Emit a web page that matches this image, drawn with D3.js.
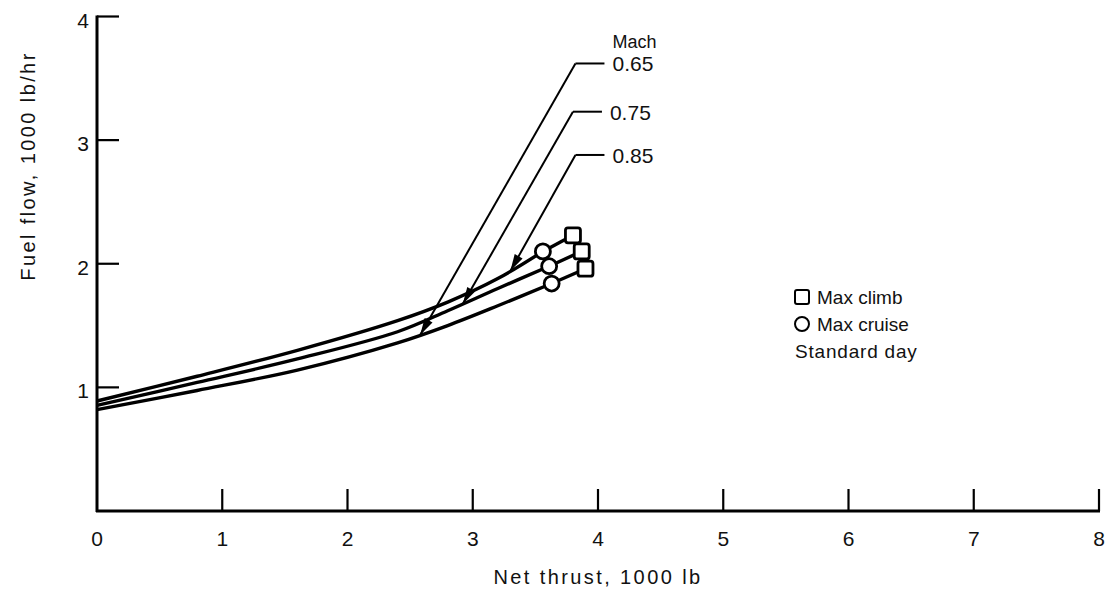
<!DOCTYPE html>
<html><head><meta charset="utf-8">
<script src="https://cdn.jsdelivr.net/npm/d3@7"></script>
<style>
body{margin:0;background:#fff;}
text{font-family:"Liberation Sans",Arial,sans-serif;fill:#111;}
</style></head>
<body><svg id="c" width="1109" height="590"></svg>
<script>
// ---- data ----
const xTicks = [0,1,2,3,4,5,6,7,8];
const yTicks = [1,2,3,4];
const machLabels = ["0.65","0.75","0.85"];
const thrust065 = [0, 0.8, 1.6, 2.4, 2.8, 3.2, 3.63];
const fuel065   = [0.82, 0.975, 1.14, 1.36, 1.50, 1.66, 1.84];
const thrust075 = [0, 0.8, 1.6, 2.4, 2.8, 3.2, 3.61];
const fuel075   = [0.855, 1.04, 1.23, 1.45, 1.62, 1.80, 1.98];
const thrust085 = [0, 0.8, 1.6, 2.4, 2.8, 3.2, 3.56];
const fuel085   = [0.89, 1.09, 1.30, 1.54, 1.69, 1.88, 2.10];
const cruiseThrust = [3.63, 3.61, 3.56];
const cruiseFuel   = [1.84, 1.98, 2.10];
const climbThrust  = [3.90, 3.87, 3.80];
const climbFuel    = [1.96, 2.10, 2.23];
const arrowTipThrust = [2.58, 2.92, 3.30];
const leaderThrust = [3.82, 3.80, 3.82];
const leaderFuel   = [3.62, 3.23, 2.88];

const svg = d3.select("#c");
const x = d3.scaleLinear().domain([0,8]).range([97,1099]);
const y = d3.scaleLinear().domain([0,4]).range([511,16.5]);

const series = [
  {t:thrust065, f:fuel065},
  {t:thrust075, f:fuel075},
  {t:thrust085, f:fuel085}
];

// axes
const g = svg.append("g");
g.append("line").attr("x1",x(0)).attr("x2",x(0)).attr("y1",y(0)+1).attr("y2",y(4)-1)
  .attr("stroke","#000").attr("stroke-width",3);
g.append("line").attr("x1",x(0)-1).attr("x2",x(8)+1).attr("y1",y(0)).attr("y2",y(0))
  .attr("stroke","#000").attr("stroke-width",3);
g.selectAll(".yt").data(yTicks).enter().append("line")
  .attr("x1",x(0)).attr("x2",x(0)+22).attr("y1",d=>y(d)).attr("y2",d=>y(d))
  .attr("stroke","#000").attr("stroke-width",2.2);
g.selectAll(".xt").data(xTicks.slice(1)).enter().append("line")
  .attr("x1",d=>x(d)).attr("x2",d=>x(d)).attr("y1",y(0)).attr("y2",y(0)-22)
  .attr("stroke","#000").attr("stroke-width",2.2);
g.selectAll(".xl").data(xTicks).enter().append("text")
  .attr("x",d=>x(d)).attr("y",y(0)+35).attr("text-anchor","middle")
  .attr("font-size",21).text(d=>d);
g.selectAll(".yl").data(yTicks).enter().append("text")
  .attr("x",x(0)-8).attr("y",d=>y(d)+11).attr("text-anchor","end")
  .attr("font-size",21).text(d=>d);
g.append("text").attr("x",598).attr("y",584).attr("text-anchor","middle")
  .attr("font-size",20).attr("letter-spacing",2.4).text("Net thrust, 1000 lb");
g.append("text").attr("transform","translate(35,166) rotate(-90)").attr("text-anchor","middle")
  .attr("font-size",20).attr("letter-spacing",2.4).text("Fuel flow, 1000 lb/hr");

// curves
const line = d3.line().x(d=>x(d[0])).y(d=>y(d[1])).curve(d3.curveCatmullRom);
series.forEach(s=>{
  const pts = s.t.map((t,i)=>[t,s.f[i]]);
  svg.append("path").attr("d",line(pts)).attr("fill","none")
    .attr("stroke","#000").attr("stroke-width",3.4);
});
// connectors cruise->climb
cruiseThrust.forEach((t,i)=>{
  svg.append("line").attr("x1",x(t)).attr("y1",y(cruiseFuel[i]))
    .attr("x2",x(climbThrust[i])).attr("y2",y(climbFuel[i]))
    .attr("stroke","#000").attr("stroke-width",3.4);
});
// markers
climbThrust.forEach((t,i)=>{
  svg.append("rect").attr("x",x(t)-7.5).attr("y",y(climbFuel[i])-7.5)
    .attr("width",15).attr("height",15).attr("rx",2.5)
    .attr("fill","#fff").attr("stroke","#000").attr("stroke-width",2.8);
});
cruiseThrust.forEach((t,i)=>{
  svg.append("circle").attr("cx",x(t)).attr("cy",y(cruiseFuel[i])).attr("r",7.5)
    .attr("fill","#fff").attr("stroke","#000").attr("stroke-width",2.8);
});

// Mach annotations
function interp(s, t){
  for(let i=0;i<s.t.length-1;i++){
    if(t>=s.t[i] && t<=s.t[i+1]){
      const k=(t-s.t[i])/(s.t[i+1]-s.t[i]);
      return s.f[i]+k*(s.f[i+1]-s.f[i]);
    }
  }
  return s.f[s.f.length-1];
}
machLabels.forEach((lab,i)=>{
  const tx = x(arrowTipThrust[i]), ty = y(interp(series[i], arrowTipThrust[i]));
  const ex = x(leaderThrust[i]), ey = y(leaderFuel[i]);
  svg.append("line").attr("x1",ex).attr("y1",ey).attr("x2",tx).attr("y2",ty)
    .attr("stroke","#000").attr("stroke-width",2);
  svg.append("line").attr("x1",ex).attr("y1",ey).attr("x2",ex+29).attr("y2",ey)
    .attr("stroke","#000").attr("stroke-width",2);
  const ang = Math.atan2(ty-ey, tx-ex);
  const L=17, W=4.5;
  const bx = tx - L*Math.cos(ang), by = ty - L*Math.sin(ang);
  const px = -Math.sin(ang)*W, py = Math.cos(ang)*W;
  svg.append("path").attr("d",`M${tx},${ty}L${bx+px},${by+py}L${bx-px},${by-py}Z`).attr("fill","#000");
  svg.append("text").attr("x",ex+37).attr("y",ey+8).attr("font-size",21).text(lab);
});
svg.append("text").attr("x",x(leaderThrust[0])+37).attr("y",y(leaderFuel[0])-15)
  .attr("font-size",18).text("Mach");

// legend
const lg = svg.append("g");
lg.append("rect").attr("x",795).attr("y",290).attr("width",14).attr("height",14).attr("rx",2)
  .attr("fill","#fff").attr("stroke","#000").attr("stroke-width",2);
lg.append("text").attr("x",817).attr("y",304).attr("font-size",19).text("Max climb");
lg.append("circle").attr("cx",802).attr("cy",324).attr("r",7)
  .attr("fill","#fff").attr("stroke","#000").attr("stroke-width",2);
lg.append("text").attr("x",817).attr("y",331).attr("font-size",19).text("Max cruise");
lg.append("text").attr("x",795).attr("y",358).attr("font-size",19).attr("letter-spacing",0.8).text("Standard day");
</script></body></html>
